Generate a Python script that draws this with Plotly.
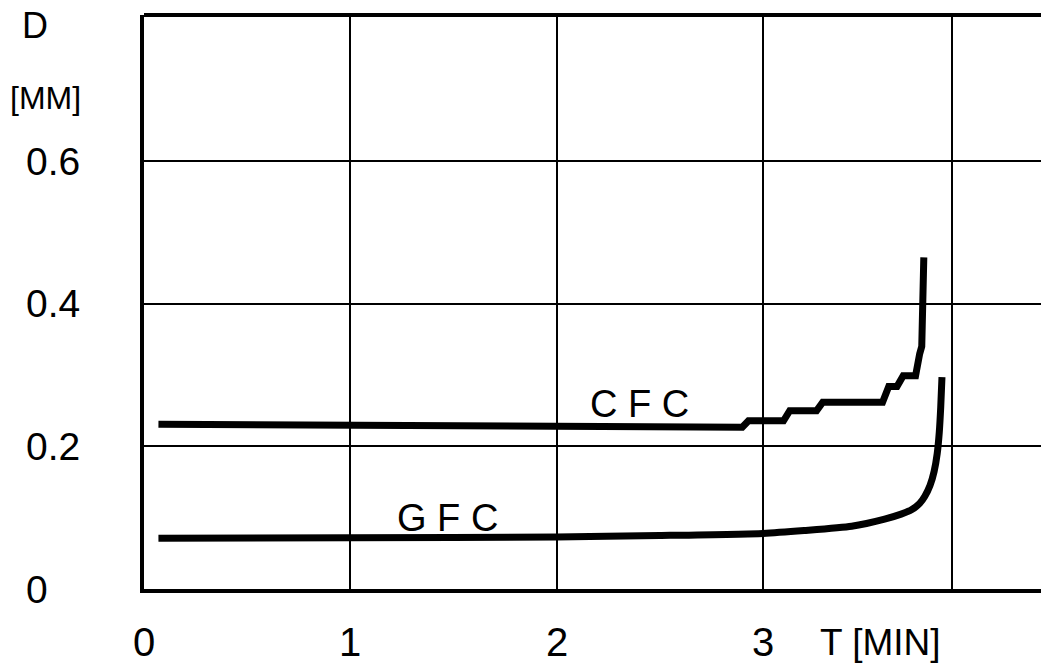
import plotly.graph_objects as go

# ---- data ----
cfc_t = [0.07, 1.0, 2.0, 2.90, 2.93, 3.10, 3.13, 3.26, 3.29, 3.58, 3.61, 3.65, 3.68, 3.74, 3.76, 3.77, 3.78]
cfc_d = [0.231, 0.230, 0.228, 0.227, 0.236, 0.236, 0.250, 0.250, 0.262, 0.262, 0.284, 0.284, 0.299, 0.299, 0.330, 0.340, 0.465]

gfc_t = [0.07, 1.0, 2.0, 2.5, 3.0, 3.2, 3.43, 3.59, 3.67, 3.72, 3.76, 3.785, 3.81, 3.83, 3.845, 3.855, 3.862, 3.868]
gfc_d = [0.071, 0.072, 0.073, 0.075, 0.078, 0.082, 0.088, 0.098, 0.105, 0.111, 0.120, 0.130, 0.145, 0.165, 0.190, 0.220, 0.255, 0.297]

x_tick_vals = [0, 1, 2, 3]
x_tick_text = ["0", "1", "2", "3"]
x_grid_vals = [1, 2, 3, 3.917]
y_tick_vals = [0, 0.2, 0.4, 0.6]
y_tick_text = ["0", "0.2", "0.4", "0.6"]
y_grid_vals = [0.2, 0.4, 0.6]

series_labels = ["C F C", "G F C"]
label_pos_t = [2.40, 1.47]
label_pos_d = [0.259, 0.099]

FONT = "Liberation Sans Narrow, Liberation Sans, Arial, sans-serif"
W, H = 1041, 666
L, R, T, B = 144, 0, 15, 77
plot_w = W - L - R
plot_h = H - T - B
px_per_t = 206.3
x_max = plot_w / px_per_t
y_max = 0.805
x_lab_y = (H - B - 642) / plot_h

fig = go.Figure()
fig.add_trace(go.Scatter(x=cfc_t, y=cfc_d, mode="lines",
                         line=dict(color="black", width=7), showlegend=False))
fig.add_trace(go.Scatter(x=gfc_t, y=gfc_d, mode="lines", line_shape="spline",
                         line=dict(color="black", width=7, smoothing=0.6), showlegend=False))

ann = []
for v, t in zip(x_tick_vals, x_tick_text):
    ann.append(dict(x=v, xref="x", y=x_lab_y, yref="paper", text=t, showarrow=False,
                    xanchor="center", yanchor="middle", font=dict(size=40, family=FONT, color="black")))
for v, t in zip(y_tick_vals, y_tick_text):
    ann.append(dict(x=(24 - L) / plot_w, xref="paper", y=v, yref="y", text=t, showarrow=False,
                    xanchor="left", yanchor="middle", font=dict(size=39, family=FONT, color="black")))
for s, tt, dd in zip(series_labels, label_pos_t, label_pos_d):
    ann.append(dict(x=tt, xref="x", y=dd, yref="y", text=s, showarrow=False,
                    xanchor="center", yanchor="middle", font=dict(size=38, family=FONT, color="black")))
ann.append(dict(x=(35 - L) / plot_w, xref="paper", y=(H - B - 26) / plot_h, yref="paper", text="D",
                showarrow=False, xanchor="center", yanchor="middle",
                font=dict(size=36, family=FONT, color="black")))
ann.append(dict(x=(45 - L) / plot_w, xref="paper", y=(H - B - 98) / plot_h, yref="paper", text="[MM]",
                showarrow=False, xanchor="center", yanchor="middle",
                font=dict(size=32, family=FONT, color="black")))
ann.append(dict(x=(818 - L) / plot_w, xref="paper", y=x_lab_y, yref="paper", text="T [MIN]",
                showarrow=False, xanchor="left", yanchor="middle",
                font=dict(size=37, family=FONT, color="black")))

fig.update_layout(
    width=W, height=H,
    margin=dict(l=L, r=R, t=T, b=B, pad=0),
    paper_bgcolor="white", plot_bgcolor="white",
    annotations=ann,
    shapes=[dict(type="line", xref="paper", yref="paper", x0=0, x1=1, y0=1, y1=1,
                 line=dict(color="black", width=4))],
    xaxis=dict(range=[0, x_max], tickvals=x_grid_vals, showticklabels=False, ticks="",
               showgrid=True, gridcolor="black", gridwidth=2, zeroline=False,
               showline=True, linecolor="black", linewidth=4, fixedrange=True),
    yaxis=dict(range=[0, y_max], tickvals=y_grid_vals, showticklabels=False, ticks="",
               showgrid=True, gridcolor="black", gridwidth=2, zeroline=False,
               showline=True, linecolor="black", linewidth=4, fixedrange=True),
)

fig.write_html("out.html", config={"displayModeBar": False})
